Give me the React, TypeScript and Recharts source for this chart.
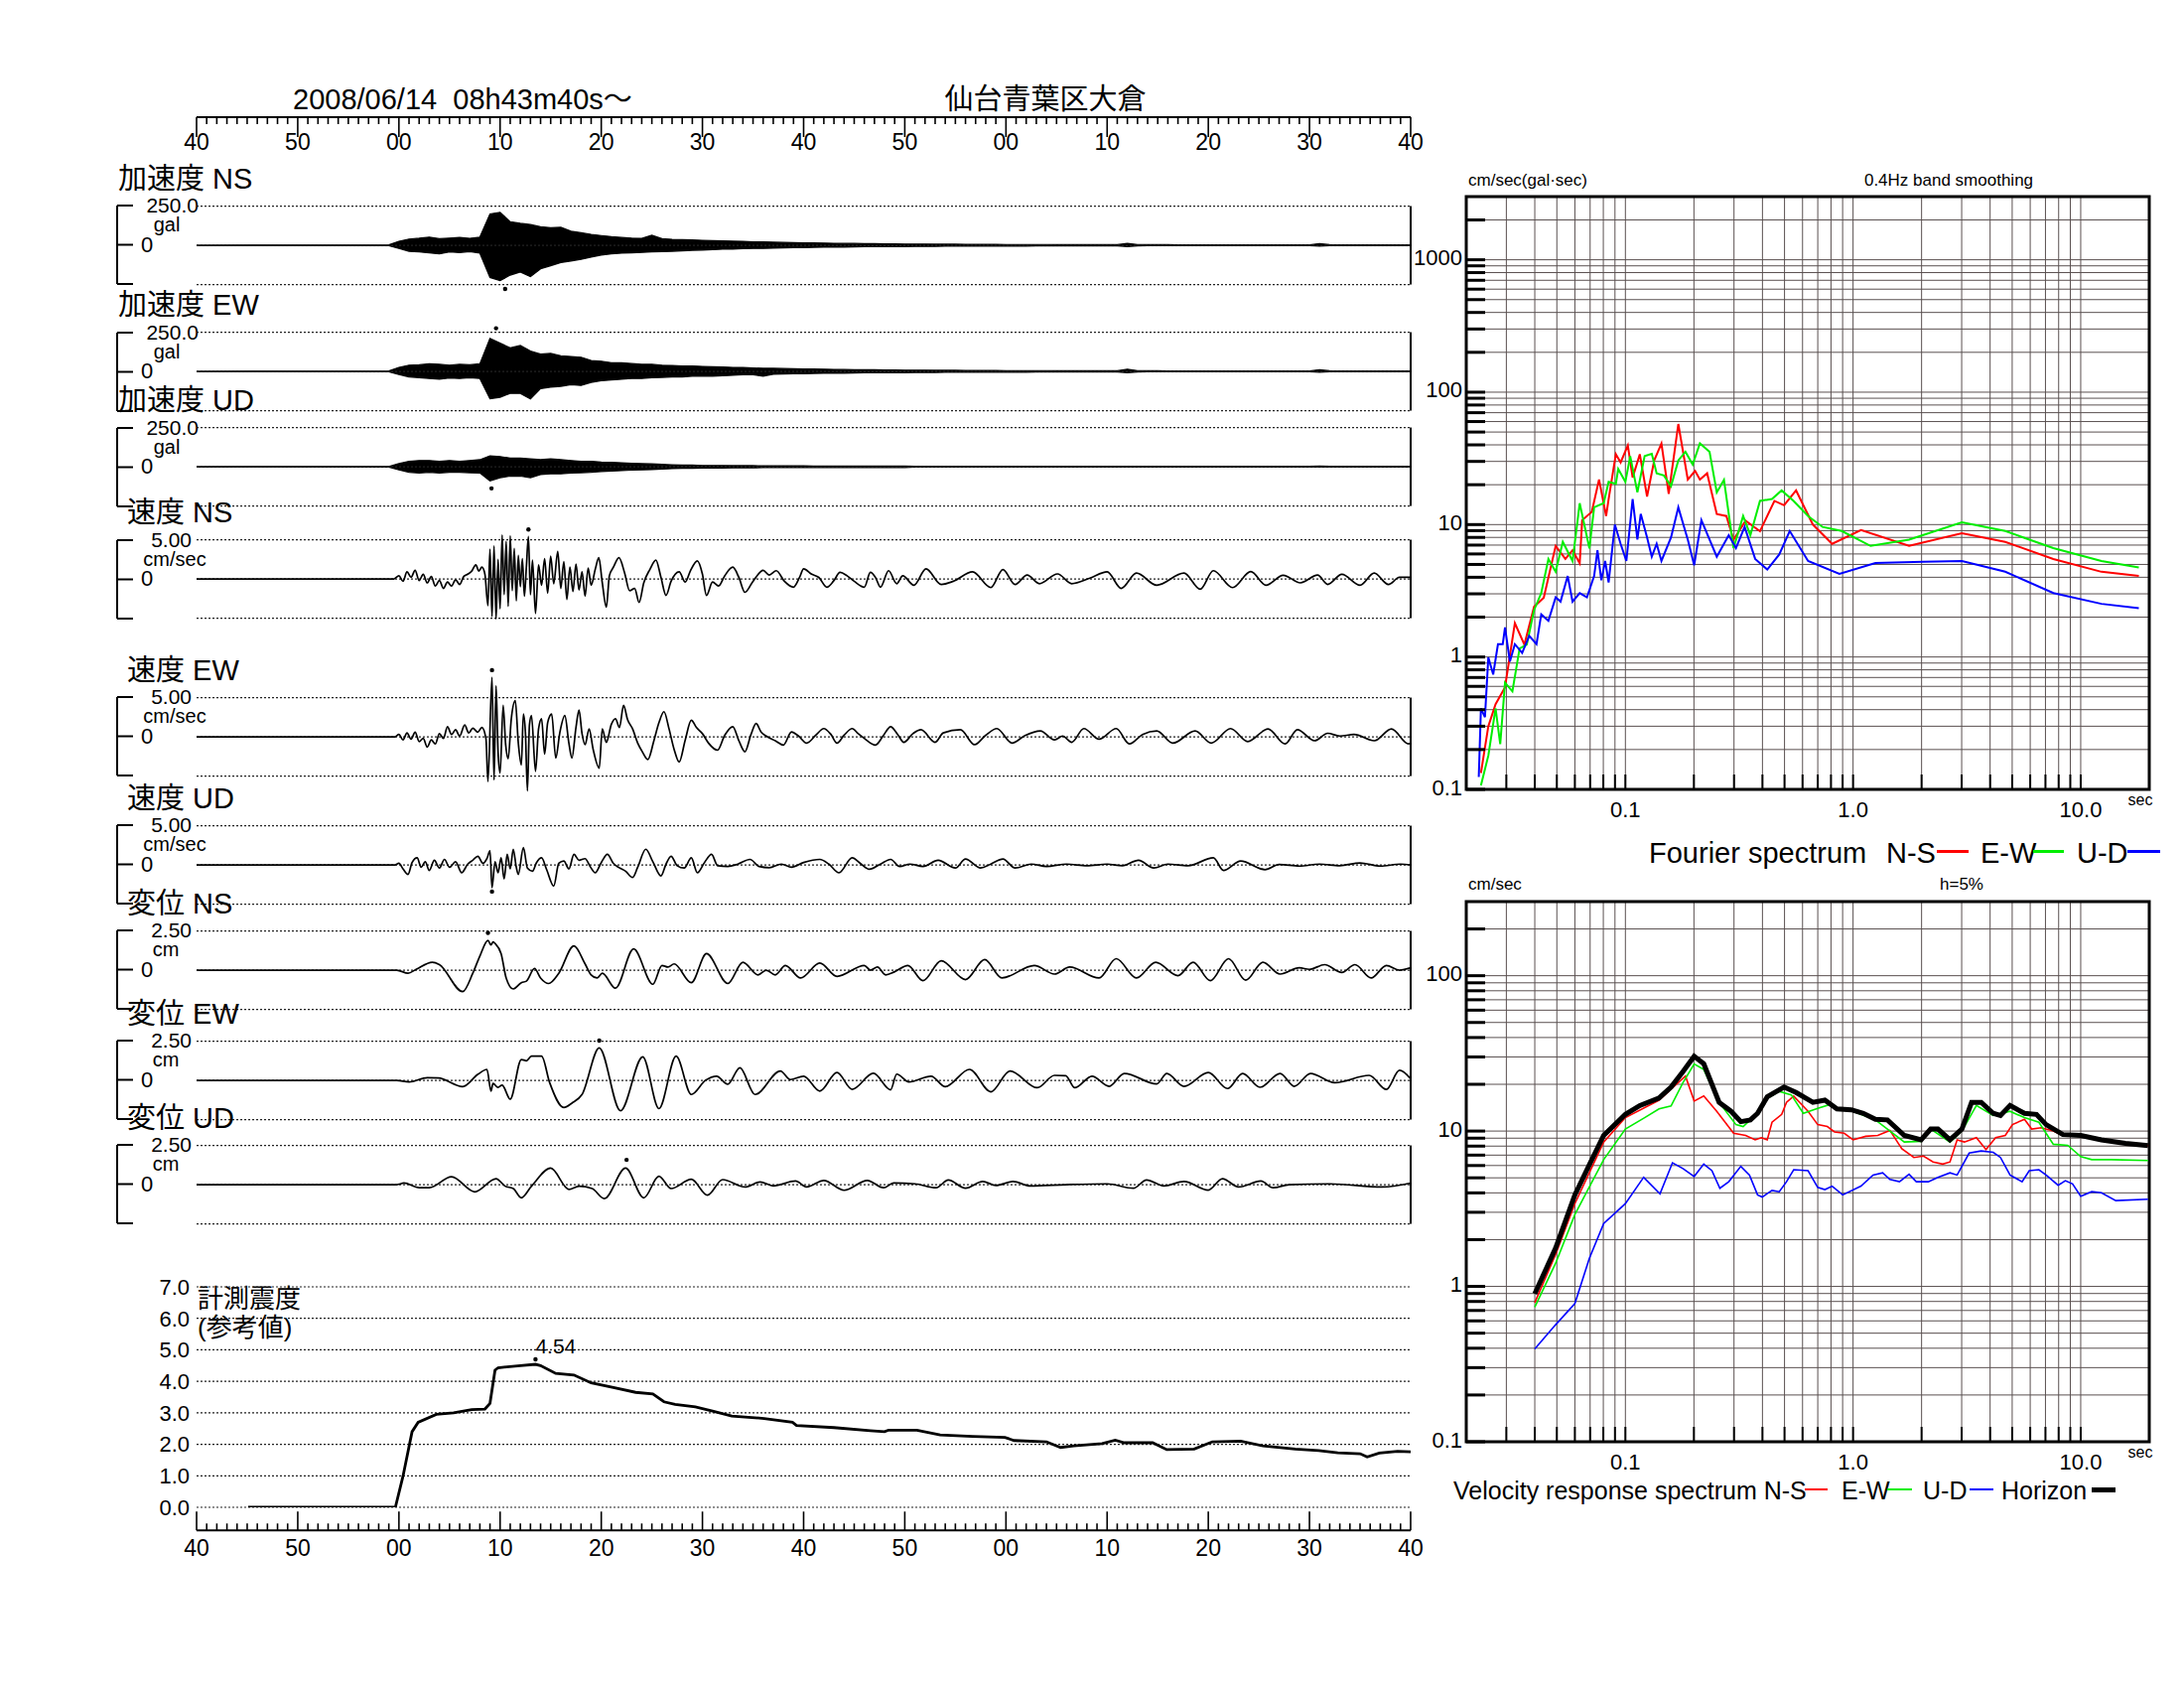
import React from 'react';
import {
  ComposedChart, LineChart, Line, Area, XAxis, YAxis, CartesianGrid,
  ReferenceLine, ReferenceDot, ReferenceArea,
} from 'recharts';

const FONT = "'Liberation Sans', Arial, 'Noto Sans CJK JP', sans-serif";

// ---------------- time axis ----------------
const timeTickLabels = ['40', '50', '00', '10', '20', '30', '40', '50', '00', '10', '20', '30', '40'];
const secTicks = Array.from({ length: 121 }, (_, i) => i);
const pArrival = 18.4;
const sArrival = 27.7;

// ---------------- acceleration envelopes (gal), one value per second from t = 19 s ----------------
const ACC_T0 = 19;
const accNsHi = [
  3, 25, 40, 45, 52, 42, 46, 50, 44, 52,
  200, 210, 150, 140, 132, 118, 112, 115, 90, 80,
  70, 62, 55, 50, 46, 44, 64, 42, 38, 36,
  34, 32, 30, 28, 26, 25, 22, 22, 20, 18,
  17, 16, 15, 14, 13, 12, 12, 10, 10, 9,
  9, 8, 8, 8, 7, 7, 7, 6, 6, 6,
  6, 5, 5, 5, 5, 5, 4, 4, 4, 4,
  4, 4, 4, 12, 5, 4, 4, 4, 3, 3,
  3, 3, 3, 3, 3, 3, 3, 3, 3, 3,
  3, 3, 10, 4, 3, 3, 3, 3, 3, 3,
  3, 3,
];
const accNsLo = [
  -3, -20, -38, -42, -48, -55, -42, -46, -40, -50,
  -205, -225, -190, -170, -200, -150, -130, -110, -100, -90,
  -75, -62, -55, -50, -48, -45, -42, -40, -38, -35,
  -32, -30, -28, -25, -25, -22, -20, -20, -18, -16,
  -15, -15, -13, -12, -12, -11, -10, -9, -9, -8,
  -8, -8, -7, -7, -7, -6, -6, -6, -6, -5,
  -5, -5, -5, -5, -4, -4, -4, -4, -4, -4,
  -4, -4, -4, -8, -4, -3, -3, -3, -3, -3,
  -3, -3, -3, -3, -3, -3, -3, -3, -3, -3,
  -3, -3, -6, -3, -3, -3, -3, -3, -3, -3,
  -3, -3,
];
const accEwHi = [
  3, 25, 40, 42, 48, 45, 40, 45, 42, 48,
  210, 180, 150, 165, 130, 110, 115, 100, 95, 90,
  70, 65, 55, 55, 50, 45, 45, 40, 38, 35,
  35, 32, 30, 28, 25, 25, 22, 20, 20, 18,
  17, 16, 15, 14, 13, 12, 11, 10, 10, 9,
  9, 8, 8, 8, 7, 7, 7, 6, 6, 6,
  6, 5, 5, 5, 5, 5, 4, 4, 4, 4,
  4, 4, 4, 14, 5, 4, 4, 3, 3, 3,
  3, 3, 3, 3, 3, 3, 3, 3, 3, 3,
  3, 3, 10, 4, 3, 3, 3, 3, 3, 3,
  3, 3,
];
const accEwLo = [
  -3, -20, -35, -40, -45, -50, -42, -45, -40, -45,
  -175, -165, -140, -140, -175, -110, -100, -95, -85, -90,
  -70, -60, -55, -50, -45, -45, -40, -38, -35, -35,
  -30, -30, -30, -28, -25, -22, -22, -30, -18, -16,
  -15, -15, -13, -12, -12, -11, -10, -9, -9, -8,
  -8, -8, -7, -7, -7, -6, -6, -6, -6, -5,
  -5, -5, -5, -5, -4, -4, -4, -4, -4, -4,
  -4, -4, -4, -8, -4, -3, -3, -3, -3, -3,
  -3, -3, -3, -3, -3, -3, -3, -3, -3, -3,
  -3, -3, -6, -3, -3, -3, -3, -3, -3, -3,
  -3, -3,
];
const accUdHi = [
  2, 20, 35, 40, 40, 35, 40, 35, 40, 45,
  70, 65, 55, 55, 50, 45, 50, 45, 40, 35,
  35, 30, 28, 25, 22, 20, 18, 15, 12, 10,
  10, 8, 8, 8, 7, 7, 7, 6, 6, 6,
  6, 6, 5, 5, 5, 5, 5, 5, 5, 5,
  5, 5, 3, 3, 3, 3, 3, 3, 3, 3,
  3, 3, 3, 3, 3, 3, 3, 3, 3, 3,
  3, 3, 3, 3, 3, 3, 3, 3, 3, 3,
  3, 3, 3, 3, 3, 3, 3, 3, 3, 3,
  3, 3, 4, 3, 3, 3, 3, 3, 3, 3,
  3, 3,
];
const accUdLo = [
  -2, -20, -35, -40, -35, -40, -35, -35, -38, -40,
  -90, -70, -60, -60, -70, -50, -45, -45, -40, -38,
  -35, -30, -28, -25, -22, -20, -18, -15, -12, -10,
  -10, -8, -8, -8, -7, -7, -7, -6, -6, -6,
  -6, -6, -5, -5, -5, -5, -5, -5, -5, -5,
  -5, -5, -3, -3, -3, -3, -3, -3, -3, -3,
  -3, -3, -3, -3, -3, -3, -3, -3, -3, -3,
  -3, -3, -3, -3, -3, -3, -3, -3, -3, -3,
  -3, -3, -3, -3, -3, -3, -3, -3, -3, -3,
  -3, -3, -3, -3, -3, -3, -3, -3, -3, -3,
  -3, -3,
];

// ---------------- velocity (cm/s), [t, v] ----------------
const velNs: [number, number][] = [
  [0, 0], [19.5, 0], [20.0, 0.4], [20.4, -0.3], [20.8, 0.9], [21.2, 0.2], [21.6, 1.1], [22.0, -0.2], [22.4, 0.6], [22.8, -0.5],
  [23.2, 0.3], [23.6, -0.9], [24.0, -0.2], [24.4, -1.2], [24.8, -0.4], [25.2, -0.9], [25.6, -0.1], [26.0, -0.7], [26.4, 0.3], [26.8, 0.6],
  [27.2, 1.0], [27.6, 1.8], [27.9, 1.0], [28.2, 1.5], [28.5, 0.6], [28.8, -3.4], [29.0, 3.8], [29.2, -4.8], [29.4, 4.2], [29.6, -5.1],
  [29.8, 2.5], [30.0, -3.8], [30.2, 5.6], [30.4, -2.0], [30.6, 4.8], [30.8, -3.5], [31.0, 5.5], [31.2, -1.5], [31.4, 3.9], [31.6, -2.8],
  [31.8, 3.0], [32.0, -1.0], [32.2, 2.6], [32.4, -2.2], [32.6, 1.6], [32.8, 5.4], [33.0, -2.0], [33.2, 2.4], [33.5, -4.4], [33.8, 1.8],
  [34.1, -0.8], [34.4, 2.6], [34.7, -1.8], [35.0, 2.9], [35.3, -0.6], [35.7, 3.5], [36.0, -1.2], [36.3, 2.2], [36.6, -2.6], [36.9, 1.5],
  [37.2, -1.6], [37.5, 1.9], [37.8, -1.4], [38.1, 0.9], [38.4, -2.2], [38.7, 1.4], [39.0, -0.8], [39.4, 1.2], [39.76, 2.7], [40.1, -0.5],
  [40.5, -3.6], [40.8, 0.4], [41.2, 1.5], [41.75, 2.7], [42.3, 0.8], [42.8, -1.5], [43.3, -1.2], [43.74, -3.0], [44.2, -0.5], [44.8, 1.2],
  [45.4, 2.4], [45.9, 0.2], [46.4, -2.1], [46.9, -0.3], [47.7, 0.9], [48.3, -0.4], [48.8, 1.0], [49.5, 2.3], [50.0, 0.6], [50.4, -2.1],
  [51.0, -0.4], [51.6, -0.9], [52.2, 0.4], [53.0, 1.5], [53.6, 0.2], [54.2, -1.7], [55.0, -0.3], [56.0, 1.1], [56.6, 0.5], [57.3, 1.05],
  [58.1, -0.3], [59.0, -1.05], [59.6, 0.2], [60.0, 1.3], [60.8, 0.6], [61.5, 0.2], [62.3, -1.05], [63.0, -0.2], [63.6, 0.84], [64.3, 0.4],
  [65.0, -0.3], [66.0, -1.05], [66.6, 0.84], [67.1, 0.2], [67.6, -1.05], [68.4, 1.05], [69.2, -0.6], [69.8, 0.4], [70.9, -0.8], [72.1, 1.3],
  [73.6, -0.7], [74.8, -0.3], [76.7, 0.9], [78.5, -1.1], [79.7, 1.2], [80.9, -0.7], [82.1, 0.5], [83.3, -0.6], [85.1, 0.64], [86.5, -0.6],
  [88.3, 0.1], [90.0, 0.9], [91.4, -1.2], [92.9, 0.75], [94.9, -0.8], [97.6, 0.75], [99.2, -1.3], [100.5, 1.05], [102.4, -1.1], [104.2, 0.93],
  [105.7, -0.8], [107.4, 0.47], [109.1, -0.5], [110.8, 0.5], [111.8, -0.7], [113.2, 0.6], [115.0, -0.8], [116.4, 0.75], [117.8, -0.7], [118.9, 0.2],
  [120, 0.2],
];
const velEw: [number, number][] = [
  [0, 0], [19.6, 0], [20.0, 0.3], [20.4, -0.4], [20.8, 0.5], [21.2, -0.3], [21.6, 0.6], [22.0, -0.6], [22.4, -0.2], [22.8, -1.3],
  [23.2, -0.4], [23.6, -0.9], [24.0, 0.4], [24.4, -0.2], [24.8, 1.3], [25.2, 0.3], [25.6, 0.9], [26.0, 0.1], [26.5, 1.5], [26.9, 0.5],
  [27.3, 1.1], [27.8, 0.6], [28.2, 1.2], [28.6, -0.2], [28.8, -5.7], [29.2, 7.6], [29.4, -5.5], [29.6, 6.5], [29.8, -2.0], [30.0, -4.6],
  [30.3, 4.0], [30.55, -1.0], [30.8, -2.8], [31.1, 2.2], [31.5, 4.6], [31.8, -0.8], [32.1, -3.6], [32.3, 2.9], [32.5, 0.6], [32.7, -6.9],
  [32.9, 1.5], [33.1, 2.7], [33.5, -4.4], [33.8, 1.0], [34.1, 2.3], [34.4, -2.2], [34.7, 1.8], [35.1, 2.9], [35.5, -2.7], [35.9, 0.5],
  [36.4, 2.7], [36.8, -0.8], [37.1, -2.7], [37.5, 1.2], [37.8, 3.4], [38.1, 0.4], [38.4, -1.0], [38.8, 1.0], [39.2, -1.6], [39.8, -4.0],
  [40.1, 1.0], [40.5, -0.7], [41.0, 1.6], [41.4, 2.3], [41.8, 1.2], [42.2, 4.0], [42.6, 2.2], [43.1, 1.0], [43.6, -0.8], [44.1, -2.0],
  [44.6, -2.9], [45.2, -0.5], [45.7, 1.8], [46.2, 3.2], [46.7, 1.0], [47.2, -1.6], [47.7, -3.2], [48.3, -0.4], [48.9, 2.1], [49.4, 1.2],
  [50.0, 0.4], [50.6, -0.8], [51.5, -1.7], [52.2, 0.2], [53.0, 1.3], [53.6, -0.5], [54.2, -1.9], [54.8, 0.3], [55.3, 1.7], [55.8, 0.6],
  [56.3, 0.1], [57.2, -0.5], [58.0, -1.05], [58.8, 0.63], [59.5, 0.1], [60.3, -0.8], [61.2, 0.2], [62.0, 1.05], [62.7, 0.3], [63.3, -0.8],
  [64.0, 0.2], [64.8, 1.05], [65.4, 0.4], [66.0, -0.2], [67.1, -1.05], [67.9, 0.2], [68.6, 1.3], [69.3, 0.3], [69.9, -0.7], [70.8, 0.4],
  [71.6, 0.9], [73.0, -0.7], [73.8, 0.5], [75.5, 0.9], [76.9, -1.0], [78.0, 0.2], [79.1, 1.05], [80.6, -0.8], [81.8, 0.1], [83.4, 0.75],
  [84.8, -0.4], [85.6, 0.1], [86.5, -0.7], [87.7, 1.05], [89.2, -0.3], [90.9, 1.05], [92.2, -0.9], [93.5, 0.3], [94.9, 0.75], [96.5, -0.8],
  [98.7, 0.75], [100.3, -0.8], [102.2, 1.05], [103.9, -0.6], [105.9, 1.0], [107.6, -0.9], [108.8, 0.9], [110.5, -0.5], [111.8, 0.45], [113.0, 0.1],
  [114.4, 0.3], [116.4, -0.5], [118.1, 1.0], [119.8, -0.9], [120, -0.8],
];
const velUd: [number, number][] = [
  [0, 0], [19.6, 0], [20.0, 0.2], [20.4, -0.5], [20.9, -1.2], [21.3, 0.3], [21.8, 0.9], [22.2, -0.3], [22.6, 0.4], [23.0, -0.7],
  [23.5, 0.6], [24.0, -0.4], [24.5, 0.7], [25.0, -0.3], [25.6, 0.4], [26.2, -1.0], [26.8, 0.1], [27.3, 0.6], [27.8, 1.1], [28.3, 0.2],
  [28.7, 0.8], [29.0, 1.8], [29.2, -2.9], [29.5, 0.4], [29.8, -1.0], [30.1, 0.9], [30.4, -1.8], [30.7, 1.35], [31.0, -0.5], [31.3, 2.0],
  [31.6, -0.3], [31.8, -1.2], [32.3, 2.2], [32.7, -0.4], [33.2, -0.8], [33.6, 0.3], [34.1, 0.9], [34.6, -0.6], [35.3, -2.7], [35.8, 0.2],
  [36.3, 0.5], [36.8, -0.5], [37.3, 1.35], [37.8, 0.6], [38.4, 0.8], [38.9, -0.2], [39.4, -1.0], [40.0, 0.3], [40.6, 1.35], [41.2, 0.2],
  [41.7, -0.3], [42.4, -0.8], [43.1, -1.6], [43.6, -0.3], [44.4, 2.0], [45.1, 0.4], [45.9, -1.4], [46.4, 0.1], [46.9, 1.1], [47.5, -0.1],
  [48.2, -0.4], [48.9, 0.9], [49.5, -1.0], [50.2, 0.3], [50.9, 1.35], [51.5, -0.1], [52.5, -0.2], [53.5, 0.1], [54.7, 0.7], [55.6, -0.2],
  [56.6, -0.35], [57.8, 0.1], [58.8, -0.3], [60.0, 0.3], [61.6, 0.7], [62.5, 0.1], [63.5, -1.0], [64.8, 0.9], [65.6, 0.2], [66.5, -0.55],
  [67.6, 0.1], [68.6, 0.7], [69.5, -0.2], [70.5, 0.1], [71.8, -0.2], [73.3, 0.6], [75.0, -0.4], [76.0, 0.75], [77.5, -0.4], [78.5, 0.1],
  [79.7, 0.75], [80.9, -0.4], [82.5, 0.1], [84.0, -0.2], [86.0, 0.1], [88.0, -0.1], [90.0, 0.1], [91.5, -0.1], [93.1, 0.6], [94.6, -0.4],
  [96.0, 0.1], [98.0, -0.1], [100.5, 0.9], [101.5, -0.7], [103.2, 0.5], [105.6, -0.6], [107.0, 0.05], [109.0, -0.15], [111.0, 0.1], [113.0, -0.1],
  [115.0, 0.25], [117.0, -0.15], [119.0, 0.1], [120, 0],
];

// ---------------- displacement (cm), [t, v] ----------------
const dispNs: [number, number][] = [
  [0, 0], [19.8, 0], [20.9, -0.2], [21.7, 0.05], [23.3, 0.5], [24.0, 0.35], [26.3, -1.37], [27.3, -0.2], [28.0, 0.9], [28.8, 1.9],
  [29.1, 1.6], [29.3, 1.8], [29.5, 1.7], [30.1, 1.05], [30.6, -0.5], [31.3, -1.2], [32.1, -0.8], [32.6, -0.7], [33.4, 0.1], [34.0, -0.5],
  [34.8, -0.85], [35.8, -0.2], [37.3, 1.55], [38.4, 0.4], [39.0, -0.3], [39.6, -0.5], [40.1, -0.2], [41.4, -1.15], [43.2, 1.35], [45.1, -0.9],
  [46.0, 0.3], [46.6, 0.2], [47.2, 0.4], [48.9, -0.8], [50.4, 1.05], [52.5, -0.85], [54.0, 0.5], [55.5, -0.3], [56.3, 0.0], [57.2, -0.3],
  [58.2, 0.3], [59.7, -0.5], [61.6, 0.45], [63.3, -0.4], [66.0, 0.3], [66.6, 0.0], [67.3, 0.2], [68.1, -0.3], [69.0, -0.1], [70.3, 0.3],
  [71.8, -0.67], [73.6, 0.6], [76.0, -0.6], [77.9, 0.67], [79.6, -0.5], [82.8, 0.3], [84.8, -0.25], [86.3, 0.2], [89.2, -0.5], [90.9, 0.73],
  [92.9, -0.5], [94.8, 0.5], [97.0, -0.35], [98.5, 0.5], [100.2, -0.67], [102.0, 0.73], [103.7, -0.64], [105.4, 0.5], [107.1, -0.25], [109.0, 0.15],
  [110.0, 0.05], [111.5, 0.35], [113.2, -0.15], [114.5, 0.35], [116.1, -0.5], [117.6, 0.3], [118.9, 0.0], [120, 0.15],
];
const dispEw: [number, number][] = [
  [0, 0], [19.8, 0], [21.0, -0.1], [22.8, 0.17], [23.9, 0.15], [26.3, -0.4], [27.8, 0.38], [28.7, 0.7], [29.1, -0.68], [29.3, -0.2],
  [29.8, -0.45], [30.2, -0.3], [31.0, -1.2], [32.1, 1.33], [32.6, 1.25], [33.1, 1.54], [34.1, 1.54], [34.9, -0.15], [36.3, -1.73], [37.1, -1.45],
  [38.1, -0.9], [39.8, 2.07], [41.9, -1.94], [44.1, 1.5], [45.7, -1.8], [47.4, 1.54], [48.9, -0.9], [50.3, 0.0], [51.4, 0.27], [52.5, -0.25],
  [53.7, 0.8], [55.2, -0.9], [57.7, 0.6], [58.7, 0.05], [60.0, 0.27], [61.6, -0.68], [63.3, 0.5], [64.8, -0.57], [66.9, 0.45], [68.6, -0.6],
  [69.2, 0.4], [70.4, -0.1], [72.6, 0.27], [74.0, -0.4], [76.4, 0.7], [78.5, -0.73], [80.4, 0.6], [83.1, -0.47], [84.8, 0.32], [85.9, 0.3],
  [86.8, -0.47], [88.5, 0.27], [90.2, -0.38], [91.7, 0.44], [94.9, -0.23], [95.9, 0.44], [97.6, -0.38], [100.0, 0.5], [101.9, -0.52], [103.4, 0.44],
  [105.1, -0.44], [107.1, 0.44], [108.5, -0.38], [110.1, 0.44], [112.5, -0.15], [115.9, 0.32], [117.6, -0.58], [118.9, 0.64], [120, 0.1],
];
const dispUd: [number, number][] = [
  [0, 0], [19.8, 0], [20.5, 0.1], [22.0, -0.2], [23.0, -0.2], [25.2, 0.5], [27.5, -0.46], [29.6, 0.38], [30.5, -0.1], [31.3, -0.25],
  [32.1, -0.84], [33.1, -0.1], [35.0, 1.05], [36.8, -0.3], [37.8, -0.1], [39.1, -0.25], [40.3, -0.89], [42.4, 1.05], [44.2, -0.84], [45.7, 0.53],
  [46.9, -0.25], [48.9, 0.34], [50.5, -0.67], [52.0, 0.32], [54.2, -0.15], [55.7, 0.17], [57.0, -0.08], [59.2, 0.23], [60.3, -0.15], [62.0, 0.27],
  [64.0, -0.36], [66.3, 0.27], [67.9, -0.2], [68.9, 0.1], [71.0, 0.05], [73.1, -0.2], [74.3, 0.3], [76.0, -0.23], [77.7, 0.2], [79.0, -0.05],
  [80.7, 0.2], [82.4, -0.08], [86.0, 0.0], [90.0, 0.05], [92.6, -0.23], [93.9, 0.3], [95.6, -0.08], [97.6, 0.2], [100.0, -0.35], [101.4, 0.38],
  [103.0, -0.15], [105.2, 0.23], [106.4, -0.2], [108.0, 0.0], [112.0, 0.05], [117.2, -0.15], [120, 0.1],
];

// peak markers
const accNsPeak = { t: 30.5, v: -278 };
const accEwPeak = { t: 29.6, v: 275 };
const accUdPeak = { t: 29.15, v: -138 };
const velNsPeak = { t: 32.8, v: 6.3 };
const velEwPeak = { t: 29.2, v: 8.5 };
const velUdPeak = { t: 29.2, v: -3.4 };
const dispNsPeak = { t: 28.8, v: 2.38 };
const dispEwPeak = { t: 39.8, v: 2.53 };
const dispUdPeak = { t: 42.5, v: 1.58 };

// ---------------- seismic intensity ----------------
const intensity: [number, number][] = [
  [5.1, 0], [19.65, 0], [20.4, 0.98], [21.3, 2.4], [21.9, 2.7], [23.7, 2.95], [25.4, 3.0], [27.2, 3.1], [28.5, 3.12], [29.0, 3.3],
  [29.5, 4.35], [29.8, 4.43], [32.0, 4.5], [33.5, 4.54], [34.0, 4.5], [35.5, 4.25], [37.3, 4.2], [39.0, 3.95], [41.2, 3.8], [43.4, 3.65],
  [45.1, 3.6], [46.2, 3.35], [47.3, 3.27], [49.3, 3.19], [51.1, 3.05], [52.9, 2.9], [56.1, 2.82], [58.9, 2.7], [59.3, 2.6], [63.0, 2.53],
  [66.6, 2.43], [68.0, 2.4], [68.4, 2.45], [71.2, 2.45], [73.5, 2.3], [76.7, 2.25], [79.9, 2.22], [80.8, 2.12], [84.0, 2.08], [85.4, 1.9],
  [86.7, 1.95], [89.5, 2.02], [90.8, 2.13], [91.7, 2.05], [94.5, 2.05], [95.9, 1.83], [98.6, 1.85], [100.4, 2.08], [103.2, 2.1], [105.4, 1.95],
  [108.6, 1.85], [110.9, 1.8], [112.8, 1.73], [115.0, 1.7], [115.7, 1.6], [116.9, 1.72], [118.7, 1.78], [120, 1.76],
];
const intensityPeak = { t: 33.5, v: 4.54 };
const intensityTicks = [0, 1, 2, 3, 4, 5, 6, 7];

// ---------------- Fourier spectra [period s, cm/s] ----------------
const fourierNS: [number, number][] = [
  [0.0232, 0.133], [0.025, 0.30], [0.0269, 0.44], [0.0296, 0.59], [0.0327, 1.8], [0.036, 1.24], [0.0397, 2.4], [0.0438, 2.8], [0.0494, 6.9], [0.0545, 5.5],
  [0.0586, 6.4], [0.063, 5.1], [0.0646, 10.8], [0.0712, 12.5], [0.0766, 21.9], [0.0823, 11.6], [0.0844, 15.6], [0.0908, 34], [0.0953, 29.5], [0.1025, 39.6],
  [0.1076, 22.7], [0.1157, 34], [0.1245, 16.3], [0.1339, 30.6], [0.144, 41], [0.155, 17.1], [0.1708, 57.5], [0.188, 21.9], [0.2024, 25.4], [0.2125, 21.9],
  [0.2286, 24.4], [0.252, 12.0], [0.2777, 11.6], [0.2986, 7.7], [0.3373, 10.7], [0.39, 8.9], [0.4515, 15.1], [0.4977, 14.0], [0.562, 18.1], [0.666, 10],
  [0.809, 7.15], [1.084, 9.1], [1.762, 6.9], [3.006, 8.6], [4.66, 7.4], [7.58, 5.5], [12.33, 4.4], [18.0, 4.1],
];
const fourierEW: [number, number][] = [
  [0.0232, 0.107], [0.025, 0.18], [0.0269, 0.41], [0.0282, 0.22], [0.0296, 0.64], [0.0319, 0.55], [0.0343, 1.16], [0.0369, 1.24], [0.0397, 2.26], [0.0427, 3.04],
  [0.0459, 5.5], [0.0494, 4.4], [0.0531, 7.4], [0.0586, 5.3], [0.063, 14.5], [0.0695, 6.6], [0.0729, 13.5], [0.0803, 14.5], [0.0844, 21], [0.0908, 20.3],
  [0.093, 26.3], [0.1, 21], [0.105, 32.9], [0.1129, 17.5], [0.1215, 32.9], [0.1306, 34.2], [0.1372, 24.4], [0.1476, 23.5], [0.1587, 19.5], [0.1708, 30.5],
  [0.1836, 35.5], [0.1975, 28.4], [0.2125, 41.1], [0.2342, 35.5], [0.252, 17.5], [0.271, 21.8], [0.2986, 6.64], [0.329, 11.6], [0.354, 8.3], [0.39, 15.1],
  [0.4406, 15.6], [0.4855, 18.1], [0.548, 15.1], [0.6346, 11.6], [0.7345, 9.6], [0.8916, 8.94], [1.194, 6.9], [1.762, 7.7], [3.006, 10.4], [4.66, 8.94],
  [7.58, 6.64], [12.33, 5.31], [18.0, 4.75],
];
const fourierUD: [number, number][] = [
  [0.0227, 0.124], [0.0232, 0.41], [0.02416, 0.351], [0.025, 0.995], [0.02626, 0.738], [0.02756, 1.25], [0.02893, 1.25], [0.0296, 1.675], [0.0311, 0.923], [0.0327, 1.25],
  [0.0352, 1.072], [0.0378, 1.444], [0.0407, 1.25], [0.0427, 2.1], [0.0459, 1.874], [0.0494, 2.82], [0.0519, 2.62], [0.0558, 4.09], [0.0586, 2.62], [0.063, 3.04],
  [0.0678, 2.82], [0.0729, 4.09], [0.0754, 6.4], [0.0784, 3.8], [0.0815, 5.31], [0.0844, 3.66], [0.0899, 10.0], [0.0953, 7.15], [0.101, 5.31], [0.1076, 15.6],
  [0.1129, 7.7], [0.1168, 12.05], [0.1245, 8.0], [0.1306, 5.72], [0.1372, 7.15], [0.144, 5.31], [0.1587, 8.0], [0.1708, 13.5], [0.188, 7.7], [0.2005, 4.93],
  [0.2157, 10.8], [0.252, 5.72], [0.2844, 8.3], [0.306, 6.65], [0.334, 9.6], [0.3716, 5.5], [0.42, 4.58], [0.474, 5.94], [0.527, 8.94], [0.6346, 5.31],
  [0.871, 4.25], [1.254, 5.12], [2.039, 5.23], [3.006, 5.31], [4.66, 4.41], [7.58, 3.04], [12.33, 2.52], [18.0, 2.34],
];

// ---------------- velocity response spectra (h=5%) [period s, cm/s] ----------------
const respNS: [number, number][] = [
  [0.04, 0.786], [0.0494, 1.61], [0.06, 3.41], [0.0803, 8.5], [0.1, 12.2], [0.1405, 15.8], [0.1627, 19.2], [0.1836, 22.6], [0.2005, 15.6], [0.2209, 16.8],
  [0.252, 13.4], [0.2986, 9.68], [0.3373, 9.37], [0.3716, 8.78], [0.3954, 9.07], [0.4198, 8.78], [0.4406, 11.4], [0.4859, 12.8], [0.5101, 15.3], [0.5487, 16.8],
  [0.6346, 13.4], [0.6995, 11.0], [0.7708, 10.7], [0.8292, 9.87], [0.914, 9.68], [1.0, 8.78], [1.137, 9.25], [1.284, 9.37], [1.451, 10.1], [1.638, 7.7],
  [1.85, 6.76], [2.039, 6.9], [2.247, 6.33], [2.477, 6.13], [2.665, 6.33], [2.865, 8.78], [3.083, 8.5], [3.481, 9.07], [3.837, 7.6], [4.23, 9.07],
  [4.662, 9.37], [5.013, 11.0], [5.661, 11.9], [6.09, 10.3], [6.712, 10.5], [7.58, 10.0], [8.35, 9.37], [10.0, 9.37], [12.33, 8.78], [15.72, 8.33],
  [19.75, 8.06],
];
const respEW: [number, number][] = [
  [0.04, 0.736], [0.0494, 1.41], [0.06, 2.9], [0.0803, 6.55], [0.1, 10.3], [0.1215, 12.2], [0.1405, 13.9], [0.1587, 14.5], [0.179, 20.5], [0.2005, 27.0],
  [0.2209, 24.9], [0.258, 15.3], [0.306, 11.0], [0.329, 10.7], [0.3716, 12.6], [0.4198, 16.2], [0.474, 18.0], [0.5355, 17.1], [0.6046, 13.0], [0.6995, 14.0],
  [0.7898, 14.8], [0.892, 13.7], [1.0, 13.4], [1.254, 11.8], [1.679, 8.5], [1.99, 8.6], [2.193, 10.3], [2.665, 8.5], [3.007, 10.0], [3.481, 14.6],
  [4.128, 12.6], [4.894, 13.4], [5.661, 12.2], [6.55, 11.4], [7.58, 8.22], [8.77, 8.1], [10.0, 6.85], [11.18, 6.55], [13.59, 6.55], [19.75, 6.46],
];
const respUD: [number, number][] = [
  [0.04, 0.396], [0.0494, 0.567], [0.06, 0.775], [0.0694, 1.51], [0.0803, 2.54], [0.1, 3.41], [0.1203, 5.04], [0.1419, 3.94], [0.161, 6.25], [0.179, 5.74],
  [0.2005, 5.1], [0.2209, 6.13], [0.2399, 5.56], [0.26, 4.28], [0.2845, 4.72], [0.3214, 5.93], [0.3507, 5.21], [0.3807, 3.88], [0.399, 3.76], [0.4406, 4.15],
  [0.474, 4.07], [0.5101, 4.72], [0.5487, 5.64], [0.6346, 5.56], [0.6995, 4.34], [0.7522, 4.2], [0.8093, 4.42], [0.9008, 3.88], [1.083, 4.42], [1.224, 5.21],
  [1.349, 5.38], [1.451, 4.88], [1.599, 4.72], [1.762, 5.27], [1.896, 4.72], [2.14, 4.72], [2.36, 5.04], [2.665, 5.38], [2.865, 5.21], [3.236, 7.21],
  [3.655, 7.45], [4.128, 7.3], [4.441, 6.76], [4.894, 5.21], [5.525, 4.72], [5.943, 5.56], [6.55, 5.64], [7.047, 5.21], [7.96, 4.48], [8.56, 4.79],
  [9.21, 4.57], [10.0, 3.81], [11.18, 4.07], [12.33, 4.01], [14.26, 3.57], [19.75, 3.64],
];
const respHorizon: [number, number][] = [
  [0.04, 0.895], [0.0494, 1.77], [0.06, 3.88], [0.0697, 6.13], [0.0803, 9.37], [0.1, 12.8], [0.1157, 14.6], [0.1405, 16.3], [0.1587, 19.2], [0.179, 24.1],
  [0.2005, 30.3], [0.2209, 27.1], [0.258, 15.3], [0.2913, 13.4], [0.3214, 11.5], [0.354, 11.8], [0.3807, 13.0], [0.4198, 16.6], [0.4515, 17.7], [0.4977, 19.2],
  [0.5621, 17.7], [0.6662, 15.3], [0.7522, 15.8], [0.8497, 13.9], [0.9831, 13.7], [1.11, 13.0], [1.254, 11.9], [1.416, 11.8], [1.679, 9.37], [1.99, 8.78],
  [2.193, 10.3], [2.36, 10.3], [2.665, 8.78], [3.007, 10.3], [3.316, 15.3], [3.655, 15.3], [4.128, 13.0], [4.441, 12.6], [4.894, 14.6], [5.661, 13.0],
  [6.393, 12.8], [7.047, 11.0], [8.35, 9.49], [10.0, 9.37], [12.33, 8.78], [15.72, 8.33], [19.75, 8.06],
];

const specXTicks = [0.03, 0.04, 0.05, 0.06, 0.07, 0.08, 0.09, 0.1, 0.2, 0.3, 0.4, 0.5, 0.6, 0.7, 0.8, 0.9, 1, 2, 3, 4, 5, 6, 7, 8, 9, 10];
const specXLabelValues = [0.1, 1, 10];
const specXLabelTexts = ['0.1', '1.0', '10.0'];
const fourierYTicks = [0.1, 0.2, 0.3, 0.4, 0.5, 0.6, 0.7, 0.8, 0.9, 1, 2, 3, 4, 5, 6, 7, 8, 9, 10, 20, 30, 40, 50, 60, 70, 80, 90, 100, 200, 300, 400, 500, 600, 700, 800, 900, 1000, 2000];
const respYTicks = [0.1, 0.2, 0.3, 0.4, 0.5, 0.6, 0.7, 0.8, 0.9, 1, 2, 3, 4, 5, 6, 7, 8, 9, 10, 20, 30, 40, 50, 60, 70, 80, 90, 100, 200];
const specYLabelValues = [0.1, 1, 10, 100, 1000];
const specYLabelTexts = ['0.1', '1', '10', '100', '1000'];

// ---------------- layout ----------------
const PLOT_X = 198;
const PLOT_W = 1223;
const HALF = 39.5;
const OVER = 1.9;

// acceleration drawn as a filled min/max envelope band (per-second peaks)
const mkAcc = (hi: number[], lo: number[]) => [
  { t: 0, r: [0, 0] },
  ...hi.map((h, i) => ({ t: ACC_T0 + i, r: [lo[i], h] })),
];
const mkLine = (arr: [number, number][]) => arr.map(([t, v]) => ({ t, v }));

const panels = [
  { title: '加速度 NS', titleX: 119, zeroY: 246.7, max: 250, maxLabel: '250.0', unit: 'gal', kind: 'acc', data: mkAcc(accNsHi, accNsLo), peak: accNsPeak },
  { title: '加速度 EW', titleX: 119, zeroY: 374.3, max: 250, maxLabel: '250.0', unit: 'gal', kind: 'acc', data: mkAcc(accEwHi, accEwLo), peak: accEwPeak },
  { title: '加速度 UD', titleX: 119, zeroY: 470, max: 250, maxLabel: '250.0', unit: 'gal', kind: 'acc', data: mkAcc(accUdHi, accUdLo), peak: accUdPeak },
  { title: '速度 NS', titleX: 128, zeroY: 583.3, max: 5, maxLabel: '5.00', unit: 'cm/sec', kind: 'line', data: mkLine(velNs), peak: velNsPeak },
  { title: '速度 EW', titleX: 128, zeroY: 741.7, max: 5, maxLabel: '5.00', unit: 'cm/sec', kind: 'line', data: mkLine(velEw), peak: velEwPeak },
  { title: '速度 UD', titleX: 128, zeroY: 870.7, max: 5, maxLabel: '5.00', unit: 'cm/sec', kind: 'line', data: mkLine(velUd), peak: velUdPeak },
  { title: '変位 NS', titleX: 128, zeroY: 976.7, max: 2.5, maxLabel: '2.50', unit: 'cm', kind: 'line', data: mkLine(dispNs), peak: dispNsPeak },
  { title: '変位 EW', titleX: 128, zeroY: 1087.7, max: 2.5, maxLabel: '2.50', unit: 'cm', kind: 'line', data: mkLine(dispEw), peak: dispEwPeak },
  { title: '変位 UD', titleX: 128, zeroY: 1192.7, max: 2.5, maxLabel: '2.50', unit: 'cm', kind: 'line', data: mkLine(dispUd), peak: dispUdPeak },
];

function Txt({ x, y, size, anchor = 'start', color = '#000', lh = 1.15, children }: any) {
  const tx = anchor === 'start' ? '0' : anchor === 'middle' ? '-50%' : '-100%';
  return (
    <div
      style={{
        position: 'absolute', left: x, top: y, transform: `translate(${tx}, -50%)`,
        fontSize: size, fontFamily: FONT, color, whiteSpace: 'pre', lineHeight: lh,
      }}
    >
      {children}
    </div>
  );
}

function Seg({ x1, x2, y, color, w }: any) {
  return <div style={{ position: 'absolute', left: x1, top: y - w / 2, width: x2 - x1, height: w, background: color }} />;
}

const dotted = { stroke: '#222', strokeDasharray: '2 2', strokeWidth: 1.2 };

function WavePanel({ cfg }: any) {
  const h = 2 * HALF * OVER;
  const top = cfg.zeroY - HALF * OVER;
  const ext = cfg.max * OVER;
  const panelTop = cfg.zeroY - HALF;
  const unitX = cfg.unit === 'gal' ? 168 : cfg.unit === 'cm' ? 167 : 176;
  const maxRight = cfg.unit === 'gal' ? 200 : 193;
  return (
    <>
      <Txt x={cfg.titleX} y={panelTop - 26.5} size={29}>{cfg.title}</Txt>
      <Txt x={maxRight} y={panelTop - 1} size={21} anchor="end" lh={1}>{cfg.maxLabel}</Txt>
      <Txt x={unitX} y={panelTop + 19} size={20} anchor="middle" lh={1}>{cfg.unit}</Txt>
      <Txt x={142} y={cfg.zeroY} size={22}>0</Txt>
      <svg style={{ position: 'absolute', left: 110, top: panelTop - 2 }} width={30} height={2 * HALF + 4}>
        <line x1={8} x2={8} y1={2} y2={2 + 2 * HALF} stroke="#000" strokeWidth={2} />
        <line x1={8} x2={24} y1={2} y2={2} stroke="#000" strokeWidth={2} />
        <line x1={8} x2={24} y1={2 + HALF} y2={2 + HALF} stroke="#000" strokeWidth={2} />
        <line x1={8} x2={24} y1={2 + 2 * HALF} y2={2 + 2 * HALF} stroke="#000" strokeWidth={2} />
      </svg>
      <div style={{ position: 'absolute', left: PLOT_X, top, width: PLOT_W + 4, height: h }}>
        <ComposedChart width={PLOT_W + 4} height={h} data={cfg.data} margin={{ top: 0, right: 4, bottom: 0, left: 0 }}>
          <XAxis type="number" dataKey="t" domain={[0, 120]} hide allowDataOverflow />
          <YAxis type="number" domain={[-ext, ext]} hide allowDataOverflow />
          <ReferenceLine y={cfg.max} {...dotted} />
          <ReferenceLine y={0} {...dotted} />
          <ReferenceLine y={-cfg.max} {...dotted} />
          <ReferenceLine segment={[{ x: 120, y: -cfg.max }, { x: 120, y: cfg.max }]} stroke="#000" strokeWidth={2} />
          {cfg.kind === 'acc' ? (
            <Area type="linear" dataKey="r" stroke="#000" strokeWidth={1.2} fill="#000" fillOpacity={1} isAnimationActive={false} activeDot={false} />
          ) : (
            <Line type="monotone" dataKey="v" stroke="#000" strokeWidth={1.7} dot={false} activeDot={false} isAnimationActive={false} />
          )}
          <ReferenceDot x={cfg.peak.t} y={cfg.peak.v} r={2.2} fill="#000" stroke="none" />
        </ComposedChart>
      </div>
    </>
  );
}

const axisData = [{ t: 0 }, { t: 120 }];

function TimeAxisChart({ isTop, axisLineY }: any) {
  const axisH = isTop ? 20 : 40;
  const plotH = isTop ? 20 : 19.3;
  const height = isTop ? axisH + plotH + 30 : plotH + axisH;
  const top = isTop ? axisLineY - axisH : axisLineY - plotH;
  const tick = (props: any) => {
    const { x, y, payload } = props;
    const v = payload.value as number;
    const major = v % 10 === 0;
    const len = major ? (isTop ? 20 : 19) : 7;
    const dir = isTop ? 1 : -1;
    return (
      <g>
        <line x1={x} x2={x} y1={y} y2={y + dir * len} stroke="#000" strokeWidth={1.6} />
        {major ? (
          <text x={x} y={isTop ? y + 25 : y + 18} textAnchor="middle" dominantBaseline="central" fontSize={23} fontFamily={FONT} fill="#000">
            {timeTickLabels[v / 10]}
          </text>
        ) : null}
      </g>
    );
  };
  const lab = { position: 'right', fill: '#0000ff', fontSize: 17, fontFamily: FONT, offset: 2 } as any;
  return (
    <div style={{ position: 'absolute', left: PLOT_X - 20, top, width: PLOT_W + 40, height }}>
      <LineChart width={PLOT_W + 40} height={height} data={axisData} margin={{ top: 0, right: 20, bottom: isTop ? 30 : 0, left: 20 }}>
        <XAxis
          type="number" dataKey="t" domain={[0, 120]} ticks={secTicks} interval={0}
          orientation={isTop ? 'top' : 'bottom'} height={axisH} tickSize={0} tickMargin={0}
          tick={tick} axisLine={{ stroke: '#000', strokeWidth: 2 }} tickLine={false} allowDataOverflow
        />
        <YAxis hide domain={[0, 1]} />
        <ReferenceLine x={pArrival} stroke="#0000ff" strokeWidth={2.5} label={{ value: 'P', ...lab }} />
        <ReferenceLine x={sArrival} stroke="#0000ff" strokeWidth={2.5} label={{ value: 'S', ...lab }} />
      </LineChart>
    </div>
  );
}

function IntensityChart() {
  const top = 1280;
  const data = intensity.map(([t, v]) => ({ t, v }));
  return (
    <div style={{ position: 'absolute', left: PLOT_X - 60, top, width: PLOT_W + 70, height: 256 }}>
      <LineChart width={PLOT_W + 70} height={256} data={data} margin={{ top: 16, right: 10, bottom: 18, left: 0 }}>
        <CartesianGrid horizontal vertical={false} stroke="#222" strokeDasharray="2 2" strokeWidth={1.2} />
        <XAxis type="number" dataKey="t" domain={[0, 120]} hide allowDataOverflow />
        <YAxis
          type="number" domain={[0, 7]} ticks={intensityTicks} interval={0} width={60}
          tickFormatter={(v: number) => v.toFixed(1)} tickLine={false} axisLine={false} tickSize={0} tickMargin={7}
          tick={{ fontSize: 22, fill: '#000', fontFamily: FONT }} allowDataOverflow
        />
        <Line type="linear" dataKey="v" stroke="#000" strokeWidth={2.8} dot={false} activeDot={false} isAnimationActive={false} />
        <ReferenceDot
          x={intensityPeak.t} y={intensityPeak.v} r={2}
          shape={(p: any) => <circle cx={p.cx} cy={p.cy - 5} r={2.2} fill="#000" />}
          label={{
            content: (p: any) => (
              <text x={p.viewBox.x + 2} y={p.viewBox.y - 17} fontSize={21} fontFamily={FONT} fill="#000" dominantBaseline="central">
                {intensityPeak.v.toFixed(2)}
              </text>
            ),
          }}
        />
      </LineChart>
    </div>
  );
}

const SPEC_LEFT = 1400;
const SPEC_W = 800;

function SpectrumChart({ boxTop, boxH, yMax, yTicks, series }: any) {
  const height = 10 + boxH + 40;
  const xTick = (props: any) => {
    const { x, y, payload } = props;
    const v = payload.value as number;
    const idx = specXLabelValues.findIndex((q) => Math.abs(q - v) < 1e-9);
    return (
      <g>
        <line x1={x} x2={x} y1={y} y2={y - 15} stroke="#000" strokeWidth={2} />
        {idx >= 0 ? (
          <text x={x} y={y + 20} textAnchor="middle" dominantBaseline="central" fontSize={22} fontFamily={FONT} fill="#000">
            {specXLabelTexts[idx]}
          </text>
        ) : null}
      </g>
    );
  };
  const yTick = (props: any) => {
    const { x, y, payload } = props;
    const v = payload.value as number;
    const idx = specYLabelValues.findIndex((q) => Math.abs(q - v) < 1e-9);
    return (
      <g>
        <line x1={x} x2={x + 19} y1={y} y2={y} stroke="#000" strokeWidth={3} />
        {idx >= 0 ? (
          <text x={x - 4} y={y - 2} textAnchor="end" dominantBaseline="central" fontSize={22} fontFamily={FONT} fill="#000">
            {specYLabelTexts[idx]}
          </text>
        ) : null}
      </g>
    );
  };
  return (
    <div style={{ position: 'absolute', left: SPEC_LEFT, top: boxTop - 10, width: SPEC_W, height }}>
      <LineChart width={SPEC_W} height={height} margin={{ top: 10, right: 35, bottom: 0, left: 0 }}>
        <CartesianGrid stroke="#5a5050" strokeWidth={1} />
        <XAxis
          type="number" dataKey="T" scale="log" domain={[0.02, 20]} allowDataOverflow ticks={specXTicks} interval={0}
          height={40} tickSize={0} tickMargin={0} tick={xTick} axisLine={false} tickLine={false}
        />
        <YAxis
          type="number" scale="log" domain={[0.1, yMax]} allowDataOverflow ticks={yTicks} interval={0}
          width={77} tickSize={0} tickMargin={0} tick={yTick} axisLine={false} tickLine={false}
        />
        {series.map((s: any) => (
          <Line
            key={s.name} name={s.name} data={s.data.map(([T, v]: [number, number]) => ({ T, v }))} dataKey="v"
            stroke={s.color} strokeWidth={s.width} dot={false} activeDot={false} type="linear" isAnimationActive={false}
          />
        ))}
        <ReferenceArea x1={0.02} x2={20} y1={0.1} y2={yMax} fill="none" stroke="#000" strokeWidth={3} ifOverflow="visible" />
      </LineChart>
    </div>
  );
}

export default function App() {
  return (
    <div style={{ position: 'absolute', left: 0, top: 0, width: 2200, height: 1700, background: '#fff', overflow: 'hidden' }}>
      <Txt x={295} y={101} size={29}>{'2008/06/14  08h43m40s〜'}</Txt>
      <Txt x={1053} y={101} size={29} anchor="middle">仙台青葉区大倉</Txt>

      <TimeAxisChart isTop axisLineY={118.3} />

      {panels.map((p) => (
        <WavePanel key={p.title} cfg={p} />
      ))}

      <Txt x={199} y={1309} size={26}>計測震度</Txt>
      <Txt x={199} y={1338} size={26}>(参考値)</Txt>
      <IntensityChart />
      <TimeAxisChart isTop={false} axisLineY={1541} />

      <Txt x={1479} y={182} size={17}>cm/sec(gal·sec)</Txt>
      <Txt x={1963} y={182} size={17} anchor="middle">0.4Hz band smoothing</Txt>
      <SpectrumChart
        boxTop={198} boxH={597} yMax={3000} yTicks={fourierYTicks}
        series={[
          { name: 'N-S', data: fourierNS, color: '#ff0000', width: 2 },
          { name: 'E-W', data: fourierEW, color: '#00ee00', width: 2 },
          { name: 'U-D', data: fourierUD, color: '#0000ff', width: 2 },
        ]}
      />
      <Txt x={2156} y={806} size={16} anchor="middle">sec</Txt>
      <Txt x={1661} y={860} size={29}>Fourier spectrum</Txt>
      <Txt x={1900} y={860} size={29}>N-S</Txt>
      <Seg x1={1951} x2={1983} y={857} color="#ff0000" w={3} />
      <Txt x={1995} y={860} size={29}>E-W</Txt>
      <Seg x1={2048} x2={2079} y={857} color="#00ee00" w={3} />
      <Txt x={2092} y={860} size={29}>U-D</Txt>
      <Seg x1={2143} x2={2176} y={857} color="#0000ff" w={3} />

      <Txt x={1479} y={891} size={17}>cm/sec</Txt>
      <Txt x={1976} y={891} size={17} anchor="middle">h=5%</Txt>
      <SpectrumChart
        boxTop={908} boxH={544} yMax={300} yTicks={respYTicks}
        series={[
          { name: 'N-S', data: respNS, color: '#ff0000', width: 1.6 },
          { name: 'E-W', data: respEW, color: '#00ee00', width: 1.6 },
          { name: 'U-D', data: respUD, color: '#0000ff', width: 1.6 },
          { name: 'Horizon', data: respHorizon, color: '#000000', width: 5 },
        ]}
      />
      <Txt x={2156} y={1463} size={16} anchor="middle">sec</Txt>
      <Txt x={1464} y={1501} size={25}>Velocity response spectrum N-S</Txt>
      <Seg x1={1818} x2={1841} y={1500} color="#ff0000" w={2.5} />
      <Txt x={1855} y={1501} size={25}>E-W</Txt>
      <Seg x1={1901} x2={1926} y={1500} color="#00ee00" w={2.5} />
      <Txt x={1937} y={1501} size={25}>U-D</Txt>
      <Seg x1={1984} x2={2008} y={1500} color="#0000ff" w={2.5} />
      <Txt x={2016} y={1501} size={25}>Horizon</Txt>
      <Seg x1={2107} x2={2131} y={1500} color="#000000" w={5} />
    </div>
  );
}
